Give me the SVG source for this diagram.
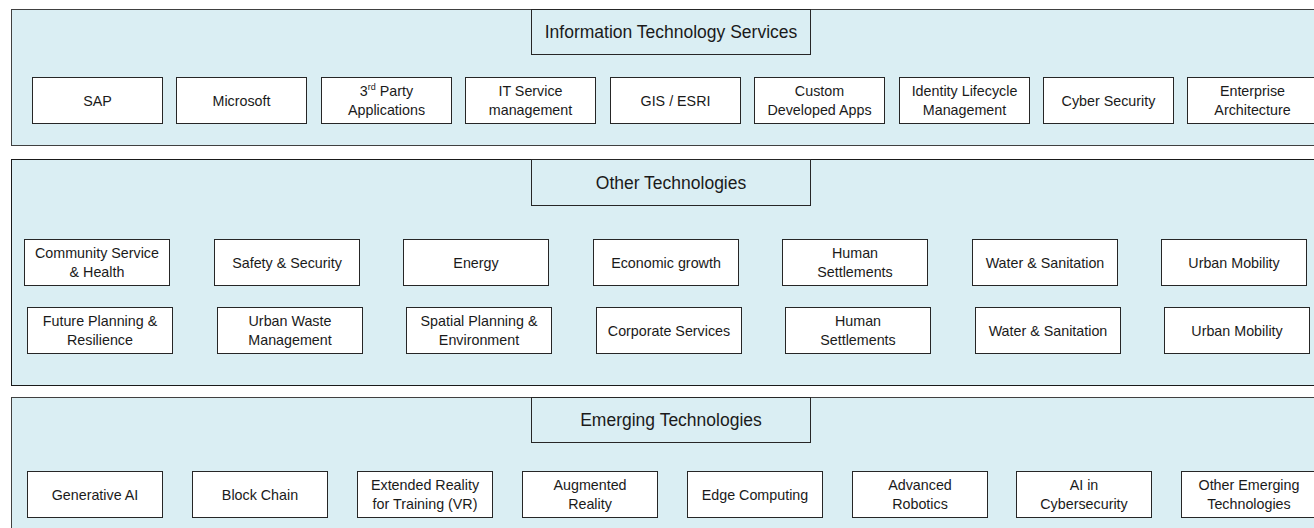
<svg xmlns="http://www.w3.org/2000/svg" width="1314" height="528" viewBox="0 0 1314 528">
<style>
.panel{fill:#DAEEF3;stroke:#404040;stroke-width:1}
.title{fill:#DAEEF3;stroke:#262626;stroke-width:1}
.box{fill:#FFFFFF;stroke:#262626;stroke-width:1}
text{font-family:"Liberation Sans",Arial,sans-serif;font-size:14.3px;fill:#1a1a1a;text-anchor:middle;dominant-baseline:central}
text.t{font-size:17.5px}
</style>
<rect width="1314" height="528" fill="#FFFFFF"/>
<g id="panel-its">
<rect class="panel" x="11.5" y="9.5" width="1320" height="136"/>
<g id="its-title"><rect class="title" x="531.5" y="9.5" width="279" height="45"/><text class="t" x="671" y="32">Information Technology Services</text></g>
<g id="its-sap"><rect class="box" x="32.5" y="77.5" width="130" height="46"/><text x="97.5" y="100.5">SAP</text></g>
<g id="its-microsoft"><rect class="box" x="176.5" y="77.5" width="130" height="46"/><text x="241.5" y="100.5">Microsoft</text></g>
<g id="its-3rdparty"><rect class="box" x="321.5" y="77.5" width="130" height="46"/><text x="386.5" y="90.5">3<tspan font-size="9" dy="-4">rd</tspan><tspan dy="4"> Party</tspan></text><text x="386.5" y="110">Applications</text></g>
<g id="its-itsm"><rect class="box" x="465.5" y="77.5" width="130" height="46"/><text x="530.5" y="90.5">IT Service</text><text x="530.5" y="110">management</text></g>
<g id="its-gis"><rect class="box" x="610.5" y="77.5" width="130" height="46"/><text x="675.5" y="100.5">GIS / ESRI</text></g>
<g id="its-custom"><rect class="box" x="754.5" y="77.5" width="130" height="46"/><text x="819.5" y="90.5">Custom</text><text x="819.5" y="110">Developed Apps</text></g>
<g id="its-identity"><rect class="box" x="899.5" y="77.5" width="130" height="46"/><text x="964.5" y="90.5">Identity Lifecycle</text><text x="964.5" y="110">Management</text></g>
<g id="its-cyber"><rect class="box" x="1043.5" y="77.5" width="130" height="46"/><text x="1108.5" y="100.5">Cyber Security</text></g>
<g id="its-ea"><rect class="box" x="1187.5" y="77.5" width="130" height="46"/><text x="1252.5" y="90.5">Enterprise</text><text x="1252.5" y="110">Architecture</text></g>
</g>
<g id="panel-other">
<rect class="panel" x="11.5" y="159.5" width="1320" height="226" style="stroke:#1a1a1a"/>
<g id="ot-title"><rect class="title" x="531.5" y="159.5" width="279" height="46"/><text class="t" x="671" y="182.5">Other Technologies</text></g>
<g id="ot-community"><rect class="box" x="24.5" y="239.5" width="145" height="46"/><text x="97" y="252.5">Community Service</text><text x="97" y="272">&amp; Health</text></g>
<g id="ot-safety"><rect class="box" x="214.5" y="239.5" width="145" height="46"/><text x="287" y="262.5">Safety &amp; Security</text></g>
<g id="ot-energy"><rect class="box" x="403.5" y="239.5" width="145" height="46"/><text x="476" y="262.5">Energy</text></g>
<g id="ot-economic"><rect class="box" x="593.5" y="239.5" width="145" height="46"/><text x="666" y="262.5">Economic growth</text></g>
<g id="ot-human1"><rect class="box" x="782.5" y="239.5" width="145" height="46"/><text x="855" y="252.5">Human</text><text x="855" y="272">Settlements</text></g>
<g id="ot-water1"><rect class="box" x="972.5" y="239.5" width="145" height="46"/><text x="1045" y="262.5">Water &amp; Sanitation</text></g>
<g id="ot-urban1"><rect class="box" x="1161.5" y="239.5" width="145" height="46"/><text x="1234" y="262.5">Urban Mobility</text></g>
<g id="ot-future"><rect class="box" x="27.5" y="307.5" width="145" height="46"/><text x="100" y="320.5">Future Planning &amp;</text><text x="100" y="340">Resilience</text></g>
<g id="ot-waste"><rect class="box" x="217.5" y="307.5" width="145" height="46"/><text x="290" y="320.5">Urban Waste</text><text x="290" y="340">Management</text></g>
<g id="ot-spatial"><rect class="box" x="406.5" y="307.5" width="145" height="46"/><text x="479" y="320.5">Spatial Planning &amp;</text><text x="479" y="340">Environment</text></g>
<g id="ot-corporate"><rect class="box" x="596.5" y="307.5" width="145" height="46"/><text x="669" y="330.5">Corporate Services</text></g>
<g id="ot-human2"><rect class="box" x="785.5" y="307.5" width="145" height="46"/><text x="858" y="320.5">Human</text><text x="858" y="340">Settlements</text></g>
<g id="ot-water2"><rect class="box" x="975.5" y="307.5" width="145" height="46"/><text x="1048" y="330.5">Water &amp; Sanitation</text></g>
<g id="ot-urban2"><rect class="box" x="1164.5" y="307.5" width="145" height="46"/><text x="1237" y="330.5">Urban Mobility</text></g>
</g>
<g id="panel-emerging">
<rect class="panel" x="11.5" y="397.5" width="1320" height="150"/>
<g id="et-title"><rect class="title" x="531.5" y="397.5" width="279" height="45"/><text class="t" x="671" y="420">Emerging Technologies</text></g>
<g id="et-genai"><rect class="box" x="27.5" y="471.5" width="135" height="46"/><text x="95" y="494.5">Generative AI</text></g>
<g id="et-blockchain"><rect class="box" x="192.5" y="471.5" width="135" height="46"/><text x="260" y="494.5">Block Chain</text></g>
<g id="et-xr"><rect class="box" x="357.5" y="471.5" width="135" height="46"/><text x="425" y="484.5">Extended Reality</text><text x="425" y="504">for Training (VR)</text></g>
<g id="et-ar"><rect class="box" x="522.5" y="471.5" width="135" height="46"/><text x="590" y="484.5">Augmented</text><text x="590" y="504">Reality</text></g>
<g id="et-edge"><rect class="box" x="687.5" y="471.5" width="135" height="46"/><text x="755" y="494.5">Edge Computing</text></g>
<g id="et-robotics"><rect class="box" x="852.5" y="471.5" width="135" height="46"/><text x="920" y="484.5">Advanced</text><text x="920" y="504">Robotics</text></g>
<g id="et-aicyber"><rect class="box" x="1016.5" y="471.5" width="135" height="46"/><text x="1084" y="484.5">AI in</text><text x="1084" y="504">Cybersecurity</text></g>
<g id="et-other"><rect class="box" x="1181.5" y="471.5" width="135" height="46"/><text x="1249" y="484.5">Other Emerging</text><text x="1249" y="504">Technologies</text></g>
</g>
<g id="connectors"/>
</svg>
